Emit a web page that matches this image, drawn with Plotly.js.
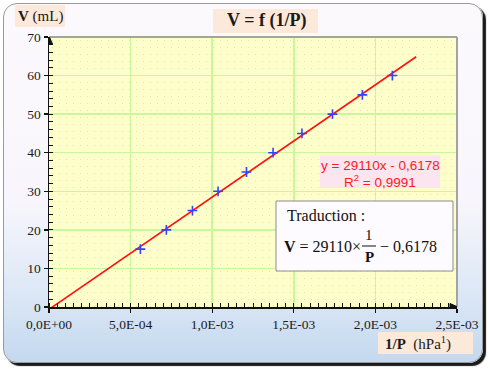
<!DOCTYPE html>
<html>
<head>
<meta charset="utf-8">
<script src="https://cdn.plot.ly/plotly-3.0.1.min.js"></script>
<style>
  html, body { margin:0; padding:0; background:#ffffff; }
  #wrap { position:relative; width:490px; height:369px; overflow:hidden; }
  #frame { position:absolute; left:3px; top:3px; width:478px; height:358px;
    border:1px solid #9a9a9a; border-radius:14px;
    background:linear-gradient(to bottom, #fcf9fd 0%, #f8f6fc 55%, #dde8f6 80%, #c4d8ef 100%);
    box-shadow:3px 3px 1px #1a1a1a; }
  #plotbg { position:absolute; left:49px; top:37px; width:408px; height:270px;
    background-color:#fefecb;
    background-image:radial-gradient(circle, #d9ecb0 0.7px, rgba(0,0,0,0) 1px);
    background-size:7px 7px; }
  #chart { position:absolute; left:0; top:0; width:490px; height:369px; }
</style>
</head>
<body>
<div id="wrap">
  <div id="frame"></div>
  <div id="plotbg"></div>
  <div id="chart"></div>
</div>
<script>
// ---- data ----
var invP = [5.60e-4, 7.19e-4, 8.79e-4, 1.036e-3, 1.21e-3, 1.373e-3, 1.55e-3, 1.737e-3, 1.92e-3, 2.104e-3];
var volume = [15, 20, 25, 30, 35, 40, 45, 50, 55, 60];
var slope = 29110;
var intercept = -0.6178;
var fitX = [0, 2.25e-3];
var fitY = fitX.map(function (x) { return slope * x + intercept; });
var xTickVals = [0, 5e-4, 1e-3, 1.5e-3, 2e-3, 2.5e-3];
var xTickText = ['0,0E+00', '5,0E-04', '1,0E-03', '1,5E-03', '2,0E-03', '2,5E-03'];
var yTickVals = [0, 10, 20, 30, 40, 50, 60, 70];

// ---- layout helpers (pixel -> paper) ----
var L = 49, T = 37, PW = 408, PH = 270;
function px(x) { return (x - L) / PW; }
function py(y) { return (T + PH - y) / PH; }

var serif = 'Liberation Serif, Times New Roman, serif';
var sans = 'Liberation Sans, Arial, sans-serif';

var traces = [
  {
    x: fitX, y: fitY, type: 'scatter', mode: 'lines',
    line: { color: '#ff1010', width: 1.6 }, hoverinfo: 'skip', showlegend: false
  },
  {
    x: invP, y: volume, type: 'scatter', mode: 'markers',
    marker: { symbol: 'cross-thin', size: 7, line: { color: '#3344ff', width: 1.6 } },
    showlegend: false
  }
];

function box(x0, y0, x1, y1, fill, lineColor, lw) {
  return { type: 'rect', xref: 'paper', yref: 'paper',
    x0: px(x0), x1: px(x1), y0: py(y1), y1: py(y0),
    fillcolor: fill, line: { color: lineColor || 'rgba(0,0,0,0)', width: lw || 0 }, layer: 'above' };
}
function lineShape(x0, y0, x1, y1, color, w) {
  return { type: 'line', xref: 'paper', yref: 'paper',
    x0: px(x0), x1: px(x1), y0: py(y0), y1: py(y1),
    line: { color: color, width: w }, layer: 'above' };
}
function txt(x, y, text, size, color, xanchor, family) {
  return { xref: 'paper', yref: 'paper', x: px(x), y: py(y), text: text,
    showarrow: false, xanchor: xanchor || 'center', yanchor: 'middle',
    font: { family: family || serif, size: size, color: color || '#111' } };
}

var layout = {
  width: 490, height: 369,
  margin: { l: L, r: 490 - L - PW, t: T, b: 369 - T - PH, pad: 0 },
  paper_bgcolor: 'rgba(0,0,0,0)',
  plot_bgcolor: 'rgba(0,0,0,0)',
  showlegend: false,
  xaxis: {
    range: [0, 2.5e-3], tickvals: xTickVals, ticktext: xTickText,
    ticks: 'outside', ticklen: 4, tickwidth: 1.3, tickcolor: '#111',
    showline: true, linecolor: '#111', linewidth: 1.5,
    showgrid: true, gridcolor: '#c9f79e', gridwidth: 1.5,
    zeroline: false, fixedrange: true,
    tickfont: { family: serif, size: 13.5, color: '#1a1a1a' },
    minor: { dtick: 5e-5, ticks: 'inside', ticklen: 4, tickwidth: 1, tickcolor: '#111', showgrid: false }
  },
  yaxis: {
    range: [0, 70], tickvals: yTickVals,
    ticks: 'outside', ticklen: 4, tickwidth: 1.3, tickcolor: '#111',
    showline: true, linecolor: '#111', linewidth: 1.5,
    showgrid: true, gridcolor: '#c9f79e', gridwidth: 1.5,
    zeroline: false, fixedrange: true,
    tickfont: { family: serif, size: 13.5, color: '#1a1a1a' },
    minor: { dtick: 2, ticks: 'inside', ticklen: 4, tickwidth: 1, tickcolor: '#111', showgrid: false }
  },
  xaxis2: {
    overlaying: 'x', anchor: 'y', side: 'bottom', range: [0, 2.5e-3],
    tickvals: xTickVals, ticks: 'inside', ticklen: 4, tickwidth: 1.3, tickcolor: '#111',
    showticklabels: false, showgrid: false, showline: false, zeroline: false, fixedrange: true
  },
  yaxis2: {
    overlaying: 'y', anchor: 'x', side: 'left', range: [0, 70],
    tickvals: yTickVals, ticks: 'inside', ticklen: 4, tickwidth: 1.3, tickcolor: '#111',
    showticklabels: false, showgrid: false, showline: false, zeroline: false, fixedrange: true
  },
  shapes: [
    lineShape(49, 37, 457, 37, '#a3a3a3', 2),
    lineShape(457, 37, 457, 307, '#a3a3a3', 2),
    box(213, 9, 318, 33, '#fde9d9'),
    box(15, 5, 65, 27, '#fde9d9'),
    box(378, 332, 473, 354, '#fde9d9'),
    box(320, 155, 440, 188, '#fbe5ee'),
    box(276, 201, 453, 271, '#fdfbff', '#8c8c8c', 1),
    lineShape(362, 246, 376, 246, '#111', 1),
    // axis arrowheads (pixel-sized, anchored on axis ends)
    { type: 'path', xref: 'x', yref: 'y', xsizemode: 'pixel', ysizemode: 'pixel',
      xanchor: 0, yanchor: 70, path: 'M -3.5 -7 L 0 1 L 3.5 -7 Z',
      fillcolor: '#111', line: { color: '#111', width: 1 }, layer: 'above' },
    { type: 'path', xref: 'x', yref: 'y', xsizemode: 'pixel', ysizemode: 'pixel',
      xanchor: 2.5e-3, yanchor: 0, path: 'M -7 -3.5 L 1 0 L -7 3.5 Z',
      fillcolor: '#111', line: { color: '#111', width: 1 }, layer: 'above' }
  ],
  annotations: [
    txt(266, 21, '<b>V = f (1/P)</b>', 18, '#1a1a1a'),
    txt(40, 16, '<b>V</b> (mL)', 15, '#1a1a1a'),
    txt(418, 343, '<b>1/P</b>  (hPa<sup>1</sup>)', 15, '#1a1a1a'),
    txt(380, 165, 'y = 29110x - 0,6178', 13.5, '#ff1a1a', 'center', sans),
    txt(380, 181, 'R<sup>2</sup> = 0,9991', 13.5, '#ff1a1a', 'center', sans),
    txt(285, 215, 'Traduction :', 16, '#111', 'left'),
    txt(282, 246, '<b>V</b> = 29110×', 16, '#111', 'left'),
    txt(369, 235, '1', 15, '#111'),
    txt(369, 257, '<b>P</b>', 15, '#111'),
    txt(378, 246, '− 0,6178', 16, '#111', 'left')
  ]
};

Plotly.newPlot('chart', traces, layout, { displayModeBar: false, staticPlot: true });
</script>
</body>
</html>
